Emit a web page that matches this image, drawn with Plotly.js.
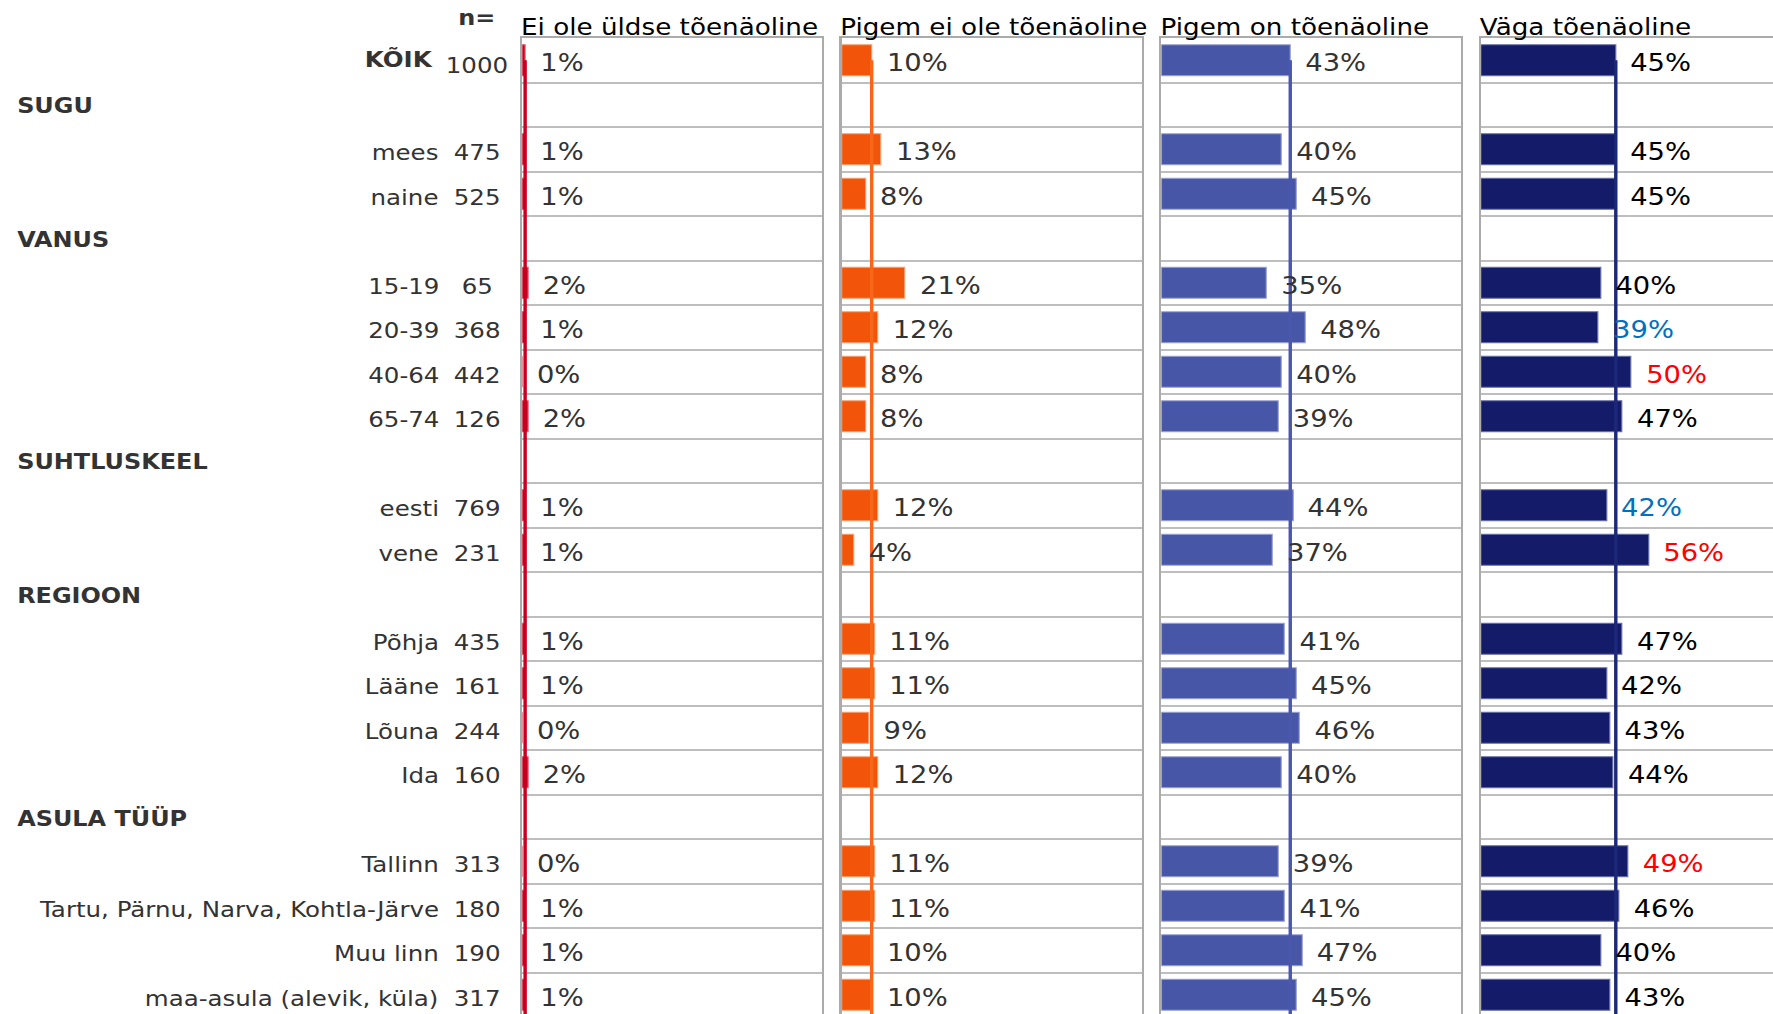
<!DOCTYPE html>
<html>
<head>
<meta charset="utf-8">
<script src="https://cdn.plot.ly/plotly-3.0.1.min.js"></script>
<style>
  html, body { margin:0; padding:0; overflow:hidden; background:#ffffff; width:1773px; height:1014px; }
  #chart { width:1570px; height:1017px; transform: scaleX(1.14); transform-origin: 0 0; }
</style>
</head>
<body>
<div id="chart"></div>
<script>
// ---------------- DATA ----------------
const rows = ["KÕIK","SUGU","mees","naine","VANUS","15-19","20-39","40-64","65-74",
  "SUHTLUSKEEL","eesti","vene","REGIOON","Põhja","Lääne","Lõuna","Ida",
  "ASULA TÜÜP","Tallinn","Tartu, Pärnu, Narva, Kohtla-Järve","Muu linn","maa-asula (alevik, küla)"];
const nValues = [1000,null,475,525,null,65,368,442,126,null,769,231,null,435,161,244,160,null,313,180,190,317];
const seriesNames = ["Ei ole üldse tõenäoline","Pigem ei ole tõenäoline","Pigem on tõenäoline","Väga tõenäoline"];
const eiOleUldse  = [1,null,1,1,null,2,1,0,2,null,1,1,null,1,1,0,2,null,0,1,1,1];
const pigemEiOle  = [10,null,13,8,null,21,12,8,8,null,12,4,null,11,11,9,12,null,11,11,10,10];
const pigemOn     = [43,null,40,45,null,35,48,40,39,null,44,37,null,41,45,46,40,null,39,41,47,45];
const vagaToen    = [45,null,45,45,null,40,39,50,47,null,42,56,null,47,42,43,44,null,49,46,40,43];
// significance of "Väga tõenäoline" vs total: 1 = higher, -1 = lower, 0 = n.s.
const vagaSig     = [0,null,0,0,null,0,-1,1,0,null,-1,1,null,0,0,0,0,null,1,0,0,0];

const seriesValues = [eiOleUldse, pigemEiOle, pigemOn, vagaToen];
const seriesSig = [null, null, null, vagaSig];

// ---------------- STYLE ----------------
const S = 1.14;                       // horizontal stretch of the whole picture
const FONT = "DejaVu Sans";
const PLOT_LEFT = 522, PLOT_RIGHT = 1781;   // in final (stretched) pixels
const PANEL_PITCH = 319.7, PANEL_W = 300;
const FIG_W = 1570, FIG_H = 1017;
const barColors  = ["#C8001F", "#F2550A", "#4856A7", "#141C6A"];
const barEdge    = ["#E06070", "#F8A070", "#9AA2D2", "#6870A8"];
const lineColors = ["#C8001F", "#F8661A", "#4A58AC", "#1E2878"];
const labelColors = ["#333333", "#333333", "#333333", "#000000"];
const sigColor = {"1": "#FF0000", "-1": "#0070C0", "0": null};

function toPaper(xFull) { return (xFull - PLOT_LEFT) / (PLOT_RIGHT - PLOT_LEFT); }

const traces = [];
const shapes = [];
const annotations = [];
const layout = {
  width: FIG_W, height: FIG_H,
  margin: { l: PLOT_LEFT / S, r: FIG_W - PLOT_RIGHT / S, t: 38, b: 0, pad: 0 },
  paper_bgcolor: "#ffffff", plot_bgcolor: "#ffffff",
  font: { family: FONT, color: "#333333" },
  showlegend: false,
  bargap: 0.3,
  hovermode: false
};

seriesValues.forEach((vals, k) => {
  const sfx = k === 0 ? "" : String(k + 1);
  const left = PLOT_LEFT + k * PANEL_PITCH;
  const d0 = toPaper(left), d1 = Math.min(1, toPaper(left + PANEL_W));
  layout["xaxis" + sfx] = {
    domain: [d0, d1], range: [0, 100], anchor: "y" + sfx,
    showgrid: false, zeroline: false, showticklabels: false, ticks: "",
    showline: true, mirror: true, linecolor: "#ABABAB", linewidth: 2, fixedrange: true
  };
  layout["yaxis" + sfx] = {
    domain: [0, 1], anchor: "x" + sfx, type: "category",
    categoryorder: "array", categoryarray: rows,
    range: [rows.length - 0.5, -0.5],
    tickson: "boundaries", showgrid: true, gridcolor: "#BEBEBE", gridwidth: 2,
    showticklabels: false, ticks: "", zeroline: false,
    showline: true, mirror: true, linecolor: "#ABABAB", linewidth: 2, fixedrange: true
  };
  traces.push({
    type: "bar", orientation: "h", x: vals, y: rows,
    xaxis: "x" + sfx, yaxis: "y" + sfx, name: seriesNames[k],
    marker: { color: barColors[k], line: { color: barEdge[k], width: 1 } },
    hoverinfo: "skip"
  });
  // reference line at the total (KÕIK) value
  shapes.push({
    type: "line", xref: "x" + sfx, yref: "y" + sfx,
    x0: vals[0], x1: vals[0], y0: 0, y1: rows.length - 0.5,
    line: { color: lineColors[k], width: 3 }, layer: "above"
  });
  // value labels
  vals.forEach((v, i) => {
    if (v === null) return;
    let col = labelColors[k];
    if (seriesSig[k] && seriesSig[k][i] && sigColor[String(seriesSig[k][i])]) col = sigColor[String(seriesSig[k][i])];
    annotations.push({
      xref: "x" + sfx, yref: "y" + sfx, x: v, y: rows[i],
      text: v + "%", showarrow: false, xanchor: "left", yanchor: "middle",
      xshift: 11, yshift: -3,
      font: { family: FONT, size: 24, color: col }
    });
  });
  // column header
  annotations.push({
    xref: "x" + sfx + " domain", yref: "paper", x: 0, y: 1,
    text: seriesNames[k], showarrow: false, xanchor: "left", yanchor: "bottom",
    xshift: -3, yshift: -4,
    font: { family: FONT, size: 23, color: "#000000" }
  });
});

// row labels and n
rows.forEach((r, i) => {
  const isGroup = nValues[i] === null;
  if (isGroup) {
    annotations.push({
      xref: "paper", yref: "y", x: toPaper(14), y: r, text: "<b>" + r + "</b>",
      showarrow: false, xanchor: "left", yanchor: "middle", yshift: -1.5,
      font: { family: FONT, size: 21, color: "#333333" }
    });
  } else {
    const bold = i === 0;
    annotations.push({
      xref: "paper", yref: "y", x: toPaper(bold ? 435.5 : 440.5), y: r,
      text: bold ? "<b>" + r + "</b>" : r,
      showarrow: false, xanchor: "right", yanchor: "middle", yshift: bold ? 1 : -3.5,
      font: { family: FONT, size: 21.5, color: "#333333" }
    });
    annotations.push({
      xref: "paper", yref: "y", x: toPaper(477), y: r, text: String(nValues[i]),
      showarrow: false, xanchor: "center", yanchor: "middle", yshift: bold ? -5 : -3.5,
      font: { family: FONT, size: 21.5, color: "#333333" }
    });
  }
});
annotations.push({
  xref: "paper", yref: "paper", x: toPaper(477), y: 1, text: "<b>n=</b>",
  showarrow: false, xanchor: "center", yanchor: "bottom", yshift: 6,
  font: { family: FONT, size: 21, color: "#333333" }
});

layout.shapes = shapes;
layout.annotations = annotations;

Plotly.newPlot("chart", traces, layout, { staticPlot: true, displayModeBar: false });
</script>
</body>
</html>
